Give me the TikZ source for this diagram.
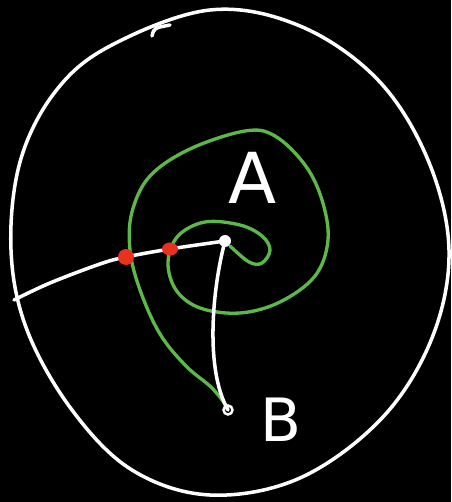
\documentclass[tikz,border=0pt]{standalone}
\usepackage{fontspec}
\setmainfont{DejaVu Sans}

\begin{document}
\begin{tikzpicture}[x=0.02cm, y=-0.02cm]

% Colori
\definecolor{colSfondo}{HTML}{000000}
\definecolor{colCurva}{HTML}{5DB84A}
\definecolor{colPunto}{HTML}{E8321F}

% Sfondo
\fill[colSfondo] (0,0) rectangle (451,502);
\useasboundingbox (0,0) rectangle (451,502);

% Bordo esterno
\draw[white, line width=2pt, line cap=round]
  plot[smooth cycle, tension=0.6] coordinates {
    (210,10) (300,26) (378,80) (428,160) (449,250) (432,338) (382,418)
    (300,478) (210,495) (132,470) (72,410) (27,330) (11,250) (20,162)
    (55,92) (110,46)};
\draw[white, line width=2pt, line cap=round] (152,36) .. controls (154,28) .. (170,25);

% Spirale verde
\draw[colCurva, line width=1.9pt, line cap=round]
  plot[smooth, tension=0.6] coordinates {
    (228,408) (212,388) (186,366) (160,334) (140,290) (130,250) (132,212)
    (150,176) (190,149) (245,131) (275,136) (305,165) (322,200) (328,240)
    (315,276) (280,302) (240,313) (200,308) (176,290) (168,262) (178,236)
    (205,222) (240,225) (262,236) (270,250) (262,263) (249,262) (230,246)};

% Punti
\coordinate (ovest) at (14,300);
\coordinate (p1) at (126,257);
\coordinate (p2) at (170,249);
\coordinate (centro) at (225,241);
\coordinate (fine) at (228,410);

% Cammino bianco
\draw[white, line width=2pt, line cap=round]
  plot[smooth, tension=0.6] coordinates {(ovest) (50,283) (100,264) (p1) (p2) (centro)};
\draw[white, line width=2pt, line cap=round]
  (centro) .. controls (212,290) and (205,370) .. (fine);

\fill[white] (centro) circle (6);
\draw[white, line width=1.4pt] (fine) circle (4.5);
\fill[colPunto] (p1) circle (8);
\fill[colPunto] (p2) ellipse (8 and 6.5);

% Etichette
\node[text=white, font=\fontsize{40}{40}\selectfont] (lA) at (253,178) {A};
\node[text=white, font=\fontsize{34}{34}\selectfont] (lB) at (281,420) {B};

\end{tikzpicture}
\end{document}
